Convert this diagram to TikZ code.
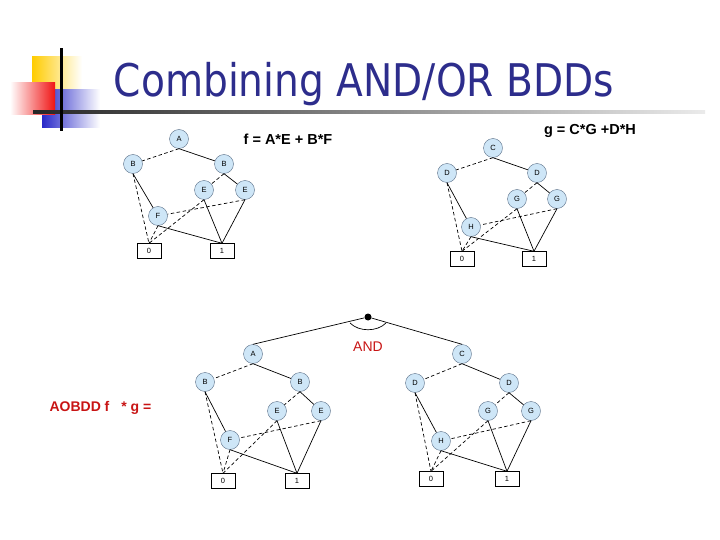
\documentclass[tikz,border=0pt]{standalone}
\usepackage{fontspec}
\setmainfont{Liberation Sans}
\newfontfamily\titlefont{DejaVu Sans}
\definecolor{nodeblue}{RGB}{206,230,247}
\definecolor{nodeline}{RGB}{90,110,135}
\definecolor{titleblue}{RGB}{45,45,140}
\definecolor{andred}{RGB}{200,20,20}
\definecolor{decoyellow}{RGB}{255,204,0}
\definecolor{decoblue}{RGB}{40,40,200}
\definecolor{decored}{RGB}{240,20,20}

\begin{document}
\begin{tikzpicture}[x=1pt, y=-1pt, every node/.style={font=\fontsize{7.5}{9}\selectfont},
  var/.style={circle,draw=nodeline,fill=nodeblue,minimum size=19pt,inner sep=0pt},
  term/.style={draw,rectangle,minimum width=24pt,minimum height=15pt,inner sep=0pt},
  hiedge/.style={line width=0.7pt},
  loedge/.style={line width=0.7pt,dash pattern=on 3.5pt off 2.5pt},
  eqn/.style={font=\bfseries\fontsize{14.5}{18}\selectfont},
  redtext/.style={text=andred,font=\fontsize{14}{17}\selectfont}]
\useasboundingbox (0,0) rectangle (720,540);
% slide decoration
\shade[left color=decoyellow,middle color=decoyellow,right color=white] (32,57) rectangle (82,100);
\shade[left color=decoblue,middle color=decoblue,right color=white] (42,90) rectangle (100,128);
\shade[left color=white,right color=decored] (10,83) rectangle (55,115);
\shade[left color=black!85,right color=black!8] (33,110.7) rectangle (705,113.3);
\fill[black] (59.5,48) rectangle (62.5,131);
\node[font=\titlefont\fontsize{45}{50}\selectfont,text=titleblue,anchor=base] (title) at (364,97) {\scalebox{0.87}[1]{Combining AND/OR BDDs}};

% f = A*E + B*F
\node[var] (fA) at (179,139) {A};
\node[var] (fBl) at (133,164) {B};
\node[var] (fBr) at (224,164) {B};
\node[var] (fEl) at (204,190) {E};
\node[var] (fEr) at (245,190) {E};
\node[var] (fF) at (158,216) {F};
\node[term] (f0) at (149,251) {0};
\node[term] (f1) at (222,251) {1};
\node[eqn] (feq) at (288,139) {f = A*E + B*F};

% g = C*G + D*H
\node[var] (gC) at (493,148) {C};
\node[var] (gDl) at (447,173) {D};
\node[var] (gDr) at (537,173) {D};
\node[var] (gGl) at (517,199) {G};
\node[var] (gGr) at (557,199) {G};
\node[var] (gH) at (471,227) {H};
\node[term] (g0) at (462,259) {0};
\node[term] (g1) at (534,259) {1};
\node[eqn] (geq) at (590,131) {g = C*G +D*H};

% AOBDD f * g
\node[circle,fill,inner sep=0pt,minimum size=7pt] (dot) at (368,317) {};
\node[redtext] (and) at (368,347) {AND};
\node[redtext,font=\bfseries\fontsize{14}{17}\selectfont,anchor=west] (prod) at (46,408) {AOBDD f\hspace{12pt}* g =};
\node[var] (hA) at (253,354) {A};
\node[var] (hBl) at (205,382) {B};
\node[var] (hBr) at (300,382) {B};
\node[var] (hEl) at (277,411) {E};
\node[var] (hEr) at (321,411) {E};
\node[var] (hF) at (230,440) {F};
\node[term] (h0) at (223,481) {0};
\node[term] (h1) at (297,481) {1};
\node[var] (kC) at (462,354) {C};
\node[var] (kDl) at (415,383) {D};
\node[var] (kDr) at (509,383) {D};
\node[var] (kGl) at (488,411) {G};
\node[var] (kGr) at (531,411) {G};
\node[var] (kH) at (441,441) {H};
\node[term] (k0) at (431,479) {0};
\node[term] (k1) at (507,479) {1};

\foreach \p/\x/\y/\z/\w in {f/A/B/E/F,g/C/D/G/H,h/A/B/E/F,k/C/D/G/H} {
  \draw[loedge] (\p\x.south) -- (\p\y l);
  \draw[hiedge] (\p\x.south) -- (\p\y r);
  \draw[loedge] (\p\y l.south) -- (\p 0.north);
  \draw[hiedge] (\p\y l.south) -- (\p\w);
  \draw[loedge] (\p\y r.south) -- (\p\z l);
  \draw[hiedge] (\p\y r.south) -- (\p\z r);
  \draw[loedge] (\p\z l.south) -- (\p 0.north);
  \draw[hiedge] (\p\z l.south) -- (\p 1.north);
  \draw[loedge] (\p\z r.south) -- (\p\w);
  \draw[hiedge] (\p\z r.south) -- (\p 1.north);
  \draw[loedge] (\p\w.south) -- (\p 0.north);
  \draw[hiedge] (\p\w.south) -- (\p 1.north);
}
\draw[hiedge] (dot) -- (hA.north);
\draw[hiedge] (dot) -- (kC.north);
\draw[line width=0.7pt] ([shift={(-18,6)}]dot.center) .. controls ([shift={(-9,15)}]dot.center) and ([shift={(9,15)}]dot.center) .. ([shift={(18,6)}]dot.center);
\end{tikzpicture}
\end{document}
